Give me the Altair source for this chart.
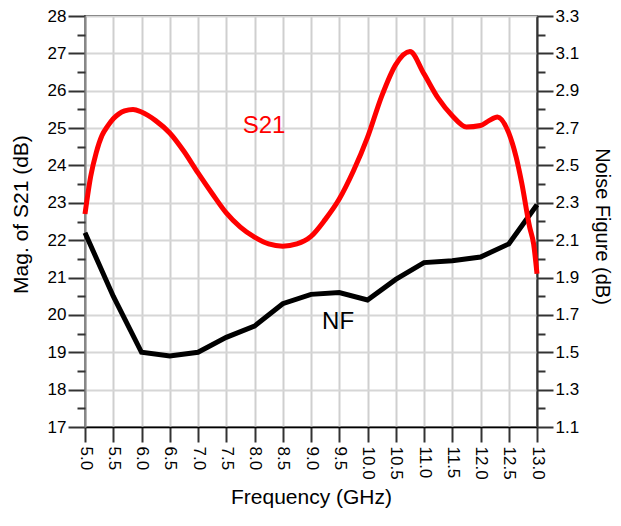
import altair as alt
import pandas as pd

FONT = "Liberation Sans"

# S21 magnitude (dB) vs frequency (GHz)
s21_freq = [5.0, 5.1, 5.2, 5.3, 5.4, 5.5, 5.6, 5.7, 5.85, 6.0, 6.25, 6.5, 6.75, 7.0,
            7.25, 7.5, 7.75, 8.0, 8.25, 8.5, 8.75, 9.0, 9.25, 9.5, 9.75, 10.0, 10.25,
            10.5, 10.75, 11.0, 11.25, 11.5, 11.75, 12.0, 12.15, 12.3, 12.5, 12.63,
            12.73, 12.87, 12.94, 13.0]
s21_db = [22.7, 23.7, 24.35, 24.8, 25.05, 25.25, 25.38, 25.46, 25.5, 25.43, 25.2, 24.87,
          24.38, 23.8, 23.25, 22.73, 22.35, 22.08, 21.9, 21.84, 21.9, 22.1, 22.55, 23.1,
          23.85, 24.75, 25.85, 26.7, 27.05, 26.45, 25.8, 25.33, 25.03, 25.07, 25.2,
          25.3, 24.87, 24.23, 23.53, 22.35, 21.9, 21.1]

# Noise figure (dB) vs frequency (GHz)
nf_freq = [5.0, 5.5, 6.0, 6.5, 7.0, 7.5, 8.0, 8.5, 9.0, 9.5, 10.0, 10.5, 11.0, 11.5,
           12.0, 12.5, 13.0]
nf_db = [2.14, 1.80, 1.50, 1.48, 1.50, 1.58, 1.64, 1.76, 1.81, 1.82, 1.78, 1.89, 1.98,
         1.99, 2.01, 2.08, 2.29]

# tick values
x_ticks = [5.0, 5.5, 6.0, 6.5, 7.0, 7.5, 8.0, 8.5, 9.0, 9.5, 10.0, 10.5, 11.0, 11.5,
           12.0, 12.5, 13.0]
left_major = [17, 18, 19, 20, 21, 22, 23, 24, 25, 26, 27, 28]
left_minor = [17.5, 18.5, 19.5, 20.5, 21.5, 22.5, 23.5, 24.5, 25.5, 26.5, 27.5]
right_major = [1.1, 1.3, 1.5, 1.7, 1.9, 2.1, 2.3, 2.5, 2.7, 2.9, 3.1, 3.3]
right_minor = [1.2, 1.4, 1.6, 1.8, 2.0, 2.2, 2.4, 2.6, 2.8, 3.0, 3.2]

# in-plot labels
s21_label = ["S21"]
s21_label_freq = [8.17]
s21_label_db = [25.06]
nf_label = ["NF"]
nf_label_freq = [9.48]
nf_label_db = [1.664]

df_s21 = pd.DataFrame({"freq": s21_freq, "s21": s21_db})
df_nf = pd.DataFrame({"freq": nf_freq, "nf": nf_db})
df_s21_lab = pd.DataFrame({"freq": s21_label_freq, "s21": s21_label_db, "label": s21_label})
df_nf_lab = pd.DataFrame({"freq": nf_label_freq, "nf": nf_label_db, "label": nf_label})

x_enc = alt.X(
    "freq:Q",
    scale=alt.Scale(domain=[5, 13], nice=False, zero=False),
    axis=alt.Axis(
        values=x_ticks, format=".1f", labelAngle=90, title="Frequency (GHz)",
        grid=True, gridColor="#cfcfcf", gridWidth=2,
        tickSize=15, tickColor="#333333", tickWidth=2,
        domainColor="#000000", domainWidth=1.5,
        labelFont=FONT, labelFontSize=17, labelColor="#000000", labelPadding=4,
        titleFont=FONT, titleFontSize=21, titleFontWeight="normal", titleColor="#000000",
        titleX=226, titleY=76, titleBaseline="alphabetic", titleAlign="center",
    ),
)

left_scale = alt.Scale(domain=[17, 28], nice=False, zero=False)
right_scale = alt.Scale(domain=[1.1, 3.3], nice=False, zero=False)

y_left = alt.Y(
    "s21:Q", scale=left_scale,
    axis=alt.Axis(
        orient="left", values=left_major, title="Mag. of S21 (dB)",
        grid=True, gridColor="#d6d6d6", gridWidth=2,
        tickSize=17, tickColor="#333333", tickWidth=2,
        domainColor="#888888", domainWidth=2,
        labelFont=FONT, labelFontSize=17, labelColor="#000000", labelPadding=2,
        titleFont=FONT, titleFontSize=21, titleFontWeight="normal", titleColor="#000000",
        titleX=-58, titleY=198, titleAngle=270, titleAlign="center",
        titleBaseline="alphabetic",
    ),
)

y_right = alt.Y(
    "nf:Q", scale=right_scale,
    axis=alt.Axis(
        orient="right", values=right_major, format=".1f", title="Noise Figure (dB)",
        grid=False, tickSize=16, tickColor="#333333", tickWidth=2,
        domainColor="#333333", domainWidth=2,
        labelFont=FONT, labelFontSize=17, labelColor="#000000", labelPadding=2,
        titleFont=FONT, titleFontSize=20, titleFontWeight="normal", titleColor="#000000",
        titleX=58, titleY=210, titleAngle=90, titleAlign="center",
        titleBaseline="alphabetic",
    ),
)

nf_line = alt.Chart(df_nf).mark_line(color="#000000", strokeWidth=5).encode(x=x_enc, y=y_right)
nf_text = alt.Chart(df_nf_lab).mark_text(
    color="#000000", font=FONT, fontSize=24, align="center", baseline="middle"
).encode(x=x_enc, y=y_right, text="label:N")
nf_group = alt.layer(nf_line, nf_text)

s21_line = alt.Chart(df_s21).mark_line(
    color="#ff0000", strokeWidth=5, interpolate="monotone"
).encode(x=x_enc, y=y_left)
s21_text = alt.Chart(df_s21_lab).mark_text(
    color="#ff0000", font=FONT, fontSize=24, align="center", baseline="middle"
).encode(x=x_enc, y=y_left, text="label:N")
s21_group = alt.layer(s21_line, s21_text)

left_minor_layer = alt.Chart(df_s21).mark_point(opacity=0).encode(
    x=x_enc,
    y=alt.Y("s21:Q", scale=alt.Scale(domain=[17, 28], nice=False, zero=False),
            axis=alt.Axis(orient="left", values=left_minor, labels=False, domain=False,
                          grid=False, tickSize=8, tickColor="#333333", tickWidth=2,
                          title=None)),
)
right_minor_layer = alt.Chart(df_nf).mark_point(opacity=0).encode(
    x=x_enc,
    y=alt.Y("nf:Q", scale=alt.Scale(domain=[1.1, 3.3], nice=False, zero=False),
            axis=alt.Axis(orient="right", values=right_minor, labels=False, domain=False,
                          grid=False, tickSize=8, tickColor="#333333", tickWidth=2,
                          title=None)),
)

chart = alt.layer(
    nf_group, s21_group, left_minor_layer, right_minor_layer
).resolve_scale(y="independent").properties(
    width=452, height=411,
    autosize=alt.AutoSizeParams(type="none"),
    padding={"left": 77, "top": 8, "right": 76, "bottom": 85},
    background="#ffffff",
).configure_view(stroke="#000000", strokeWidth=1.5)

chart.save("out.html", embed_options={"renderer": "svg", "actions": False})
